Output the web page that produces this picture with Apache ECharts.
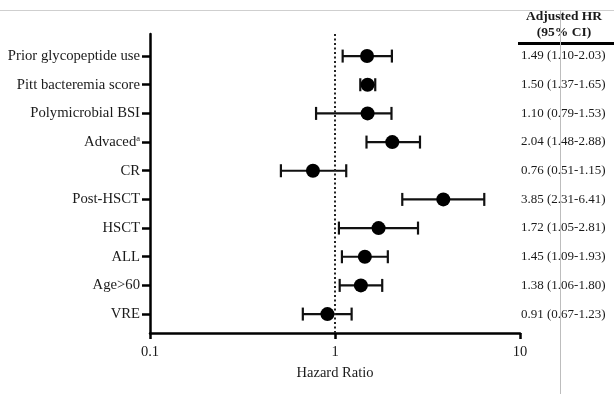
<!DOCTYPE html>
<html>
<head>
<meta charset="utf-8">
<script src="https://cdn.jsdelivr.net/npm/echarts@6/dist/echarts.min.js"></script>
<style>html,body{margin:0;padding:0;background:#fff;}#c{width:614px;height:394px;}</style>
</head>
<body>
<div id="c"></div>
<script>
// Data (top to bottom)
var categories = ['Prior glycopeptide use','Pitt bacteremia score','Polymicrobial BSI','Advaced{sup|a}','CR','Post-HSCT','HSCT','ALL','Age>60','VRE'];
var hrPlotted = [1.49, 1.50, 1.50, 2.04, 0.76, 3.85, 1.72, 1.45, 1.38, 0.91];
var ciLowPlotted = [1.10, 1.37, 0.79, 1.48, 0.51, 2.31, 1.05, 1.09, 1.06, 0.67];
var ciHighPlotted = [2.03, 1.65, 2.02, 2.88, 1.15, 6.41, 2.81, 1.93, 1.80, 1.23];
var hrText = ['1.49 (1.10-2.03)','1.50 (1.37-1.65)','1.10 (0.79-1.53)','2.04 (1.48-2.88)','0.76 (0.51-1.15)','3.85 (2.31-6.41)','1.72 (1.05-2.81)','1.45 (1.09-1.93)','1.38 (1.06-1.80)','0.91 (0.67-1.23)'];
var xTicks = [0.1, 1, 10];

var n = categories.length;
var rowPos = categories.map(function(_, i){ return n - i; });
var labelByPos = {}, textByPos = {};
categories.forEach(function(c, i){ labelByPos[n - i] = c; textByPos[n - i] = hrText[i]; });

var FONT = 'Liberation Serif';
var chart = echarts.init(document.getElementById('c'));
chart.setOption({
  animation: false,
  backgroundColor: '#fff',
  grid: {left: 150, right: 94, top: 34, bottom: 61},
  xAxis: {
    type: 'log', logBase: 10, min: xTicks[0], max: xTicks[xTicks.length-1],
    name: 'Hazard Ratio', nameLocation: 'middle', nameGap: 33,
    nameTextStyle: {fontFamily: FONT, fontSize: 14.5, color: '#1a1a1a'},
    axisLine: {lineStyle: {color: '#000', width: 2.5}},
    axisTick: {show: true, length: 6, lineStyle: {color: '#000', width: 2.5}},
    axisLabel: {fontFamily: FONT, fontSize: 14.5, color: '#1a1a1a', margin: 12,
      formatter: function(v){ return String(+v.toPrecision(3)); }},
    splitLine: {show: false}, minorTick: {show: false}
  },
  yAxis: [{
    type: 'value', min: 0.34, max: 10.77,
    axisLine: {show: true, lineStyle: {color: '#000', width: 2.5}},
    axisTick: {show: true, length: 8, customValues: rowPos, lineStyle: {color: '#000', width: 2.5}},
    axisLabel: {customValues: rowPos, fontFamily: FONT, fontSize: 14.7, color: '#1a1a1a', margin: 10,
      formatter: function(v){ return labelByPos[Math.round(v)] || ''; },
      rich: {sup: {fontFamily: FONT, fontSize: 8.5, color: '#1a1a1a', verticalAlign: 'top', padding: [0,0,7,0]}}},
    splitLine: {show: false}
  }, {
    type: 'value', min: 0.34, max: 10.77, position: 'right',
    axisLine: {show: false}, axisTick: {show: false},
    axisLabel: {customValues: rowPos, fontFamily: FONT, fontSize: 13, color: '#1a1a1a', margin: 1,
      formatter: function(v){ return textByPos[Math.round(v)] || ''; }},
    splitLine: {show: false}
  }],
  series: [{
    type: 'custom',
    data: categories.map(function(_, i){ return [ciLowPlotted[i], ciHighPlotted[i], rowPos[i]]; }),
    encode: {x: [0, 1], y: 2},
    renderItem: function(params, api){
      var y = api.value(2);
      var p1 = api.coord([api.value(0), y]);
      var p2 = api.coord([api.value(1), y]);
      var h = 6.5;
      var st = {stroke: '#111', lineWidth: 2.2};
      return {type: 'group', children: [
        {type: 'line', shape: {x1: p1[0], y1: p1[1], x2: p2[0], y2: p2[1]}, style: st},
        {type: 'line', shape: {x1: p1[0], y1: p1[1]-h, x2: p1[0], y2: p1[1]+h}, style: st},
        {type: 'line', shape: {x1: p2[0], y1: p2[1]-h, x2: p2[0], y2: p2[1]+h}, style: st}
      ]};
    },
    z: 2
  }, {
    type: 'scatter',
    data: categories.map(function(_, i){ return [hrPlotted[i], rowPos[i]]; }),
    symbol: 'circle', symbolSize: 14,
    itemStyle: {color: '#000', opacity: 1},
    z: 3,
    markLine: {
      silent: true, symbol: ['none','none'],
      label: {show: false},
      lineStyle: {color: '#222', width: 2, type: [2, 2.5], opacity: 1},
      data: [{xAxis: 1}]
    }
  }],
  graphic: [
    {type: 'line', shape: {x1: 0, y1: 10.5, x2: 614, y2: 10.5}, style: {stroke: '#cfcfcf', lineWidth: 1}, z: 100},
    {type: 'line', shape: {x1: 560.5, y1: 10, x2: 560.5, y2: 394}, style: {stroke: '#bdbdbd', lineWidth: 1}, z: 100},
    {type: 'line', shape: {x1: 518, y1: 43.5, x2: 614, y2: 43.5}, style: {stroke: '#000', lineWidth: 3}, z: 50},
    {type: 'text', x: 564, y: 17, style: {text: 'Adjusted HR', fontFamily: FONT, fontSize: 13.5, fontWeight: 'bold', fill: '#1a1a1a', align: 'center', verticalAlign: 'middle'}, z: 50},
    {type: 'text', x: 564, y: 33, style: {text: '(95% CI)', fontFamily: FONT, fontSize: 13.5, fontWeight: 'bold', fill: '#1a1a1a', align: 'center', verticalAlign: 'middle'}, z: 50}
  ]
});
</script>
</body>
</html>
